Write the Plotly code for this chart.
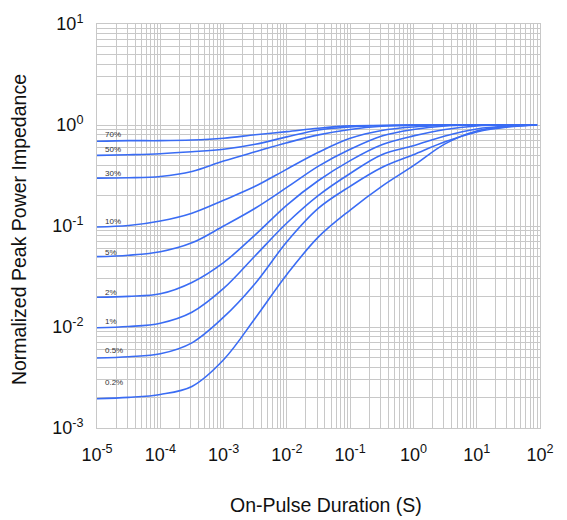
import math
import plotly.graph_objects as go

# Pulse duration (s) at which each curve is sampled
pulse_s = [1e-5, 3.16e-5, 1e-4, 3.16e-4, 1e-3, 3.16e-3, 1e-2, 3.16e-2,
           1e-1, 0.316, 1.0, 3.16, 10.0, 31.6, 90.0]

# Normalized peak power impedance for each duty cycle
z_70 = [0.69, 0.70, 0.70, 0.71, 0.74, 0.80, 0.86, 0.93, 0.98, 0.99, 1.0, 1.0, 1.0, 1.0, 1.0]
z_50 = [0.50, 0.508, 0.52, 0.543, 0.575, 0.644, 0.763, 0.893, 0.956, 0.989, 1.0, 1.0, 1.0, 1.0, 1.0]
z_30 = [0.298, 0.30, 0.309, 0.346, 0.439, 0.543, 0.667, 0.798, 0.904, 0.971, 0.993, 1.0, 1.0, 1.0, 1.0]
z_10 = [0.0977, 0.101, 0.112, 0.134, 0.18, 0.247, 0.366, 0.537, 0.738, 0.883, 0.956, 0.989, 1.0, 1.0, 1.0]
z_5 = [0.0497, 0.0514, 0.0556, 0.0681, 0.10, 0.15, 0.241, 0.392, 0.575, 0.78, 0.904, 0.978, 1.0, 1.0, 1.0]
z_2 = [0.0197, 0.0201, 0.0213, 0.0276, 0.0434, 0.0817, 0.161, 0.282, 0.444, 0.637, 0.78, 0.904, 0.978, 1.0, 1.0]
z_1 = [0.00984, 0.0101, 0.0109, 0.014, 0.0241, 0.0508, 0.107, 0.201, 0.331, 0.508, 0.622, 0.78, 0.914, 0.978, 1.0]
z_05 = [0.00493, 0.00508, 0.00543, 0.00697, 0.0125, 0.027, 0.0697, 0.15, 0.247, 0.379, 0.508, 0.681, 0.854, 0.956, 1.0]
z_02 = [0.00195, 0.00201, 0.00215, 0.00258, 0.00474, 0.0122, 0.0331, 0.078, 0.144, 0.247, 0.396, 0.651, 0.873, 0.967, 1.0]

duty_labels = ["70%", "50%", "30%", "10%", "5%", "2%", "1%", "0.5%", "0.2%"]
duty_series = [z_70, z_50, z_30, z_10, z_5, z_2, z_1, z_05, z_02]
label_lift_px = [7, 6, 5, 6, 4, 5, 6, 8, 16]

x_decades = [-5, -4, -3, -2, -1, 0, 1, 2]
y_decades = [-3, -2, -1, 0, 1]

LINE = "#3a6cf4"
GRID = "#c8c8c8"
FONT = "Liberation Sans, Arial, sans-serif"

fig = go.Figure()
for lab, zs in zip(duty_labels, duty_series):
    fig.add_trace(go.Scatter(
        x=pulse_s, y=zs, mode="lines", name=lab,
        line=dict(color=LINE, width=1.6, shape="spline", smoothing=1.0),
        hoverinfo="skip", showlegend=False,
    ))

# Duty-cycle tags just above the start of each curve
for lab, zs, lift in zip(duty_labels, duty_series, label_lift_px):
    fig.add_annotation(
        x=-4.91, y=math.log10(zs[0]), xref="x", yref="y",
        text=lab, showarrow=False, xanchor="left", yanchor="middle",
        yshift=lift, font=dict(family=FONT, size=8, color="#333333"),
    )

def minor_vals(decs):
    vals = []
    for d in decs[:-1]:
        for m in range(2, 10):
            vals.append(m * 10.0 ** d)
    return vals

fig.update_xaxes(
    type="log", range=[-5, 2],
    tickvals=[10.0 ** d for d in x_decades],
    ticktext=[f"10<sup>{d}</sup>" for d in x_decades],
    showgrid=True, gridcolor=GRID, gridwidth=1.4,
    minor=dict(tickvals=minor_vals(x_decades), showgrid=True, gridcolor=GRID, gridwidth=1),
    showline=True, linecolor=GRID, linewidth=1, mirror=True,
    ticks="", ticklabelstandoff=10, zeroline=False,
    tickfont=dict(family=FONT, size=18, color="#111111"),
)
fig.update_yaxes(
    type="log", range=[-3, 1],
    tickvals=[10.0 ** d for d in y_decades],
    ticktext=[f"10<sup>{d}</sup>" for d in y_decades],
    showgrid=True, gridcolor=GRID, gridwidth=1.4,
    minor=dict(tickvals=minor_vals(y_decades), showgrid=True, gridcolor=GRID, gridwidth=1),
    showline=True, linecolor=GRID, linewidth=1, mirror=True,
    ticks="", ticklabelstandoff=9, zeroline=False,
    tickfont=dict(family=FONT, size=18, color="#111111"),
)

fig.add_annotation(
    text="On-Pulse Duration (S)", xref="paper", yref="paper",
    x=0.517, y=-0.191, showarrow=False, xanchor="center", yanchor="middle",
    font=dict(family=FONT, size=19.5, color="#111111"),
)
fig.add_annotation(
    text="Normalized Peak Power Impedance", xref="paper", yref="paper",
    x=-0.176, y=0.49, showarrow=False, xanchor="center", yanchor="middle",
    textangle=-90, font=dict(family=FONT, size=19.5, color="#111111"),
)

fig.update_layout(
    width=567, height=520,
    margin=dict(l=97, r=27, t=20, b=92),
    paper_bgcolor="white", plot_bgcolor="white",
)

fig.write_html("out.html")
